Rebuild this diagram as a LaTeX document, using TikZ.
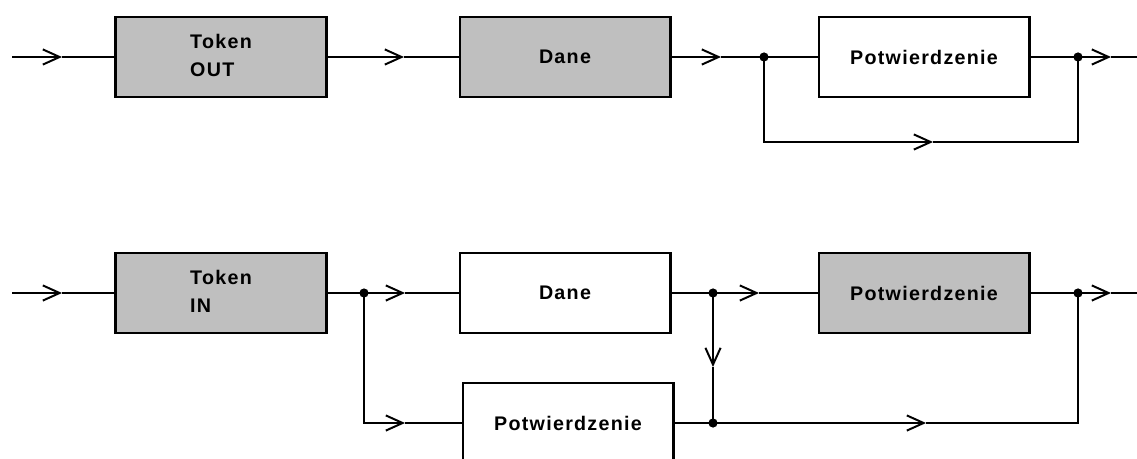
\documentclass[tikz,border=0pt]{standalone}
\usepackage{fontspec}
\setmainfont{Liberation Sans}
\newfontfamily\blokfont[LetterSpace=6.5]{Liberation Sans}
\usetikzlibrary{arrows.meta, positioning}

\begin{document}
\begin{tikzpicture}[
    x = 0.025cm, y = -0.025cm,
    line width = 2.1pt,
    blok/.style = {rectangle, draw, line width=2.1pt, inner sep=0pt,
    minimum width=5.25cm, minimum height=2cm,
    font=\blokfont\fontsize{14}{19.5}\selectfont\bfseries, fill=#1},% wypelnienie
    blok/.default = white,
    flow/.style = {-{Straight Barb[length=0.42cm, width=0.38cm, line width=1.4pt]}},
    dot/.style = {circle, fill, inner sep=0pt, minimum size=0.23cm}
    ]
    \useasboundingbox (0,0) rectangle (1137,459);
    %
    % gorny rzad
    \node (TokOut) [blok=gray!50] at (221,57) {\begin{tabular}{@{}l@{}}Token\\OUT\end{tabular}};
    \node (DaneA) [blok=gray!50] at (565,57) {Dane};
    \node (PotwA) [blok] at (924,57) {Potwierdzenie};
    \coordinate (InA) at (12,57);
    \coordinate (OutA) at (1137,57);
    \node (JA) [dot] at (764,57) {};
    \node (JB) [dot] at (1078,57) {};
    %
    \draw[flow] (InA) -- (62,57);
    \draw (62,57) -- (TokOut.west);
    \draw[flow] (TokOut.east) -- (404,57);
    \draw (404,57) -- (DaneA.west);
    \draw[flow] (DaneA.east) -- (721,57);
    \draw (721,57) -- (JA.center) -- (PotwA.west);
    \draw (PotwA.east) -- (JB.center);
    \draw[flow] (JB.center) -- (1111,57);
    \draw (1111,57) -- (OutA);
    \draw[flow] (JA.center) |- (933,142);
    \draw (933,142) -| (JB.center);
    %
    % dolny rzad
    \node (TokIn) [blok=gray!50] at (221,293) {\begin{tabular}{@{}l@{}}Token\\IN\end{tabular}};
    \node (DaneB) [blok] at (565,293) {Dane};
    \node (PotwB) [blok=gray!50] at (924,293) {Potwierdzenie};
    \node (PotwC) [blok] at (568,423) {Potwierdzenie};
    \coordinate (InB) at (12,293);
    \coordinate (OutB) at (1137,293);
    \node (JC) [dot] at (364,293) {};
    \node (JD) [dot] at (713,293) {};
    \node (JE) [dot] at (713,423) {};
    \node (JF) [dot] at (1078,293) {};
    %
    \draw[flow] (InB) -- (62,293);
    \draw (62,293) -- (TokIn.west);
    \draw (TokIn.east) -- (JC.center);
    \draw[flow] (JC.center) -- (405,293);
    \draw (405,293) -- (DaneB.west);
    \draw[flow] (JC.center) |- (405,423);
    \draw (405,423) -- (PotwC.west);
    \draw (DaneB.east) -- (JD.center);
    \draw[flow] (JD.center) -- (759,293);
    \draw (759,293) -- (PotwB.west);
    \draw[flow] (JD.center) -- (713,367);
    \draw (713,367) -- (JE.center);
    \draw (PotwC.east) -- (JE.center);
    \draw[flow] (JE.center) -- (926,423);
    \draw (926,423) -| (JF.center);
    \draw (PotwB.east) -- (JF.center);
    \draw[flow] (JF.center) -- (1111,293);
    \draw (1111,293) -- (OutB);
\end{tikzpicture}
\end{document}
